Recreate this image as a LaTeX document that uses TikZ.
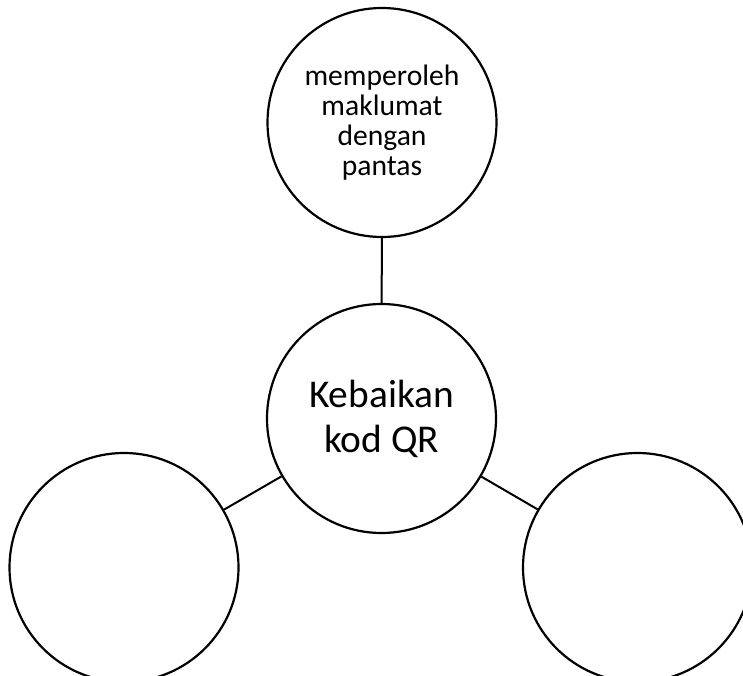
\documentclass[tikz,border=0pt]{standalone}
\usepackage{fontspec}
\setmainfont{Carlito}
\tikzset{
  bubble/.style={circle, draw=black, line width=2.2pt, fill=white, minimum size=229pt, inner sep=0pt, align=center},
  smalltext/.style={font=\fontsize{29.6pt}{30pt}\selectfont},
  bigtext/.style={font=\fontsize{39.4pt}{45pt}\selectfont},
  link/.style={draw=black, line width=2pt}
}
\begin{document}
\begin{tikzpicture}[x=1pt, y=-1pt]
\useasboundingbox (0,0) rectangle (743,676);
\fill[white] (0,0) rectangle (743,676);
\clip (0,0) rectangle (743,676);
\node[bubble, bigtext] (hub) at (381.5,418.5) {Kebaikan\\kod QR};
\node[bubble, smalltext] (top) at (382,122.5) {memperoleh\\maklumat\\dengan\\pantas};
\node[bubble] (bl) at (124,567.5) {};
\node[bubble] (br) at (637.5,567.5) {};
\path[link] (hub) -- (top);
\path[link] (hub) -- (bl);
\path[link] (hub) -- (br);
\end{tikzpicture}
\end{document}
